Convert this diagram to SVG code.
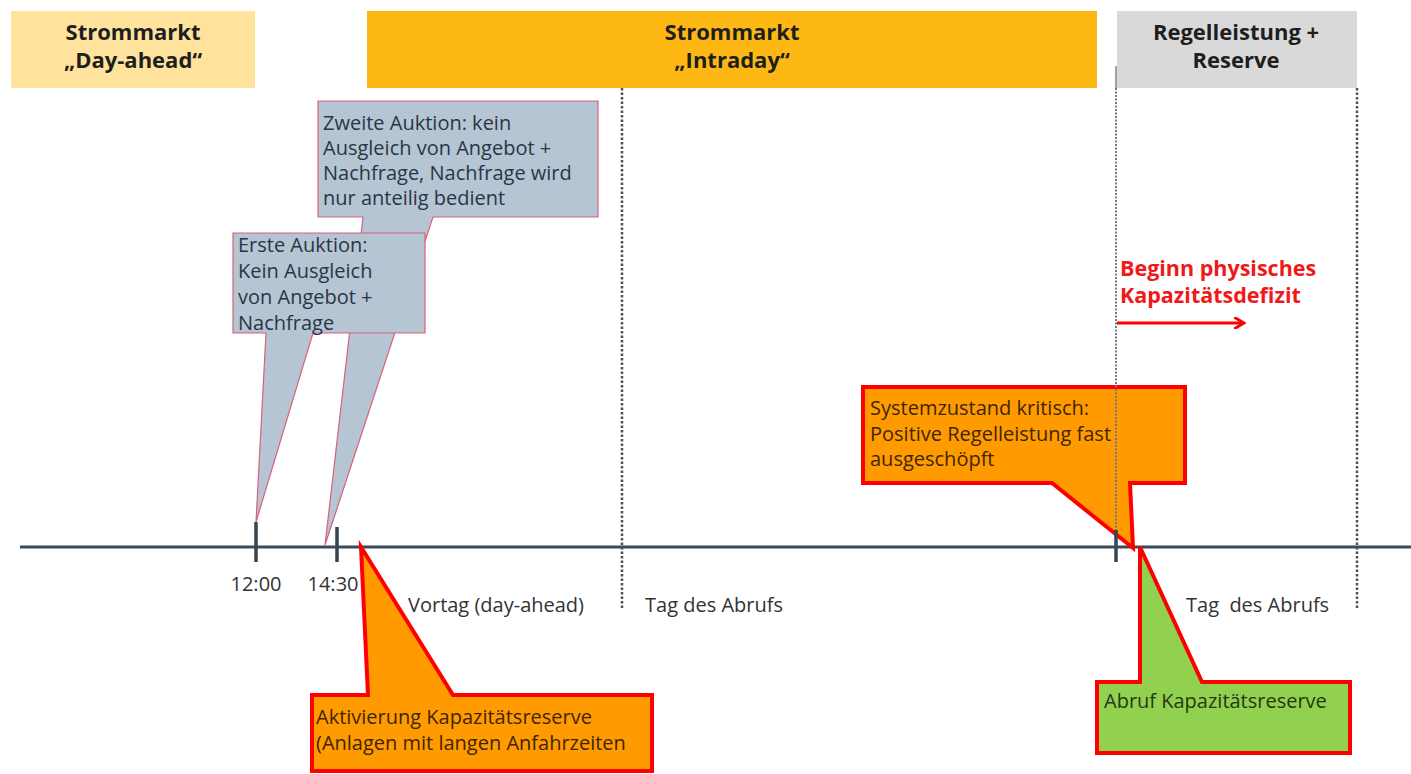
<svg xmlns="http://www.w3.org/2000/svg" width="1411" height="774" viewBox="0 0 1411 774">
<defs>
<style>
.hdr{font-family:"Open Sans","Liberation Sans",sans-serif;font-weight:bold;font-size:22px;fill:#1e1e1e;text-anchor:middle}
.t{font-family:"Open Sans","Liberation Sans",sans-serif;font-size:20px}
.blue{fill:#b5c5d4;stroke:#d9607a;stroke-width:1.2}
.orange{fill:#ff9a00;stroke:#ff0000;stroke-width:4;stroke-linejoin:miter}
.green{fill:#92d050;stroke:#ff0000;stroke-width:4;stroke-linejoin:miter}
.dot{stroke:#4a4f5a;stroke-width:2.5;stroke-dasharray:2.5 2;fill:none}
.tick{stroke:#36454f;stroke-width:3.5}
.lbl{fill:#333}
</style>
<marker id="arr" markerWidth="12" markerHeight="12" refX="9" refY="6" orient="auto" markerUnits="userSpaceOnUse">
<path d="M0,0 L10,6 L0,12" fill="none" stroke="#ff0000" stroke-width="2.8"/>
</marker>
</defs>
<rect width="1411" height="774" fill="#ffffff"/>
<g id="hdr-dayahead">
<rect x="11" y="11" width="244" height="77" fill="#ffe39c"/>
<text class="hdr" x="133" y="40">Strommarkt</text>
<text class="hdr" x="133" y="68">„Day-ahead“</text>
</g>
<g id="hdr-intraday">
<rect x="367" y="11" width="730" height="77" fill="#fdb813"/>
<text class="hdr" x="732" y="40">Strommarkt</text>
<text class="hdr" x="732" y="68">„Intraday“</text>
</g>
<g id="hdr-regel">
<rect x="1117" y="11" width="240" height="77" fill="#d9d9d9"/>
<text class="hdr" x="1236" y="40">Regelleistung +</text>
<text class="hdr" x="1236" y="68">Reserve</text>
</g>
<g id="connectors">
<line x1="20" y1="547" x2="1411" y2="547" stroke="#3c4a58" stroke-width="3"/>
<line class="dot" x1="622" y1="88" x2="622" y2="610"/>
<line class="dot" x1="1357" y1="88" x2="1357" y2="610"/>
<line class="tick" x1="256" y1="522" x2="256" y2="562"/>
<line class="tick" x1="337" y1="527" x2="337" y2="562"/>
</g>
<g id="labels">
<text class="t lbl" x="256" y="591" text-anchor="middle">12:00</text>
<text class="t lbl" x="333" y="591" text-anchor="middle">14:30</text>
<text class="t lbl" x="408" y="612">Vortag (day-ahead)</text>
<text class="t lbl" x="645" y="612">Tag des Abrufs</text>
<text class="t lbl" x="1186" y="612" xml:space="preserve">Tag  des Abrufs</text>
</g>
<g id="callout-zweite">
<path class="blue" d="M318,101 L598,101 L598,217 L433,217 L325,545 L363,217 L318,217 Z"/>
<text class="t" fill="#2a3644"><tspan x="323" y="130">Zweite Auktion: kein</tspan><tspan x="323" y="155">Ausgleich von Angebot +</tspan><tspan x="323" y="180">Nachfrage, Nachfrage wird</tspan><tspan x="323" y="205">nur anteilig bedient</tspan></text>
</g>
<g id="callout-erste">
<path class="blue" d="M233,233 L425,233 L425,333 L313,333 L256,522 L266,333 L233,333 Z"/>
<text class="t" fill="#2a3644"><tspan x="238" y="252">Erste Auktion:</tspan><tspan x="238" y="278">Kein Ausgleich</tspan><tspan x="238" y="304">von Angebot +</tspan><tspan x="238" y="330">Nachfrage</tspan></text>
</g>
<g id="callout-aktivierung">
<path class="orange" d="M312,695 L368,695 L361,547 L453,695 L652,695 L652,771 L312,771 Z"/>
<text class="t" fill="#3d2600"><tspan x="316" y="724">Aktivierung Kapazitätsreserve</tspan><tspan x="316" y="750">(Anlagen mit langen Anfahrzeiten</tspan></text>
</g>
<g id="callout-system">
<path class="orange" d="M863,387 L1185,387 L1185,483 L1130,483 L1133,548 L1052,483 L863,483 Z"/>
<text class="t" fill="#3d2600"><tspan x="870" y="415">Systemzustand kritisch:</tspan><tspan x="870" y="441">Positive Regelleistung fast</tspan><tspan x="870" y="466">ausgeschöpft</tspan></text>
</g>
<g id="marker-1117">
<line x1="1116" y1="66" x2="1116" y2="88" stroke="#9aa4ae" stroke-width="2"/>
<line x1="1116" y1="88" x2="1116" y2="540" stroke="#6f7a86" stroke-width="2" stroke-dasharray="2 1.5"/>
<line class="tick" x1="1116" y1="530" x2="1116" y2="562"/>
</g>
<g id="callout-abruf">
<path class="green" d="M1097,682 L1140,682 L1140,547 L1202,682 L1350,682 L1350,753 L1097,753 Z"/>
<text class="t" fill="#1f3a10" x="1104" y="708">Abruf Kapazitätsreserve</text>
</g>
<g id="defizit">
<text font-family="'Open Sans','Liberation Sans',sans-serif" font-weight="bold" font-size="21.5" fill="#f01818"><tspan x="1120" y="276">Beginn physisches</tspan><tspan x="1120" y="303">Kapazitätsdefizit</tspan></text>
<line x1="1117" y1="323" x2="1243" y2="323" stroke="#ff0000" stroke-width="3" marker-end="url(#arr)"/>
</g>
</svg>
